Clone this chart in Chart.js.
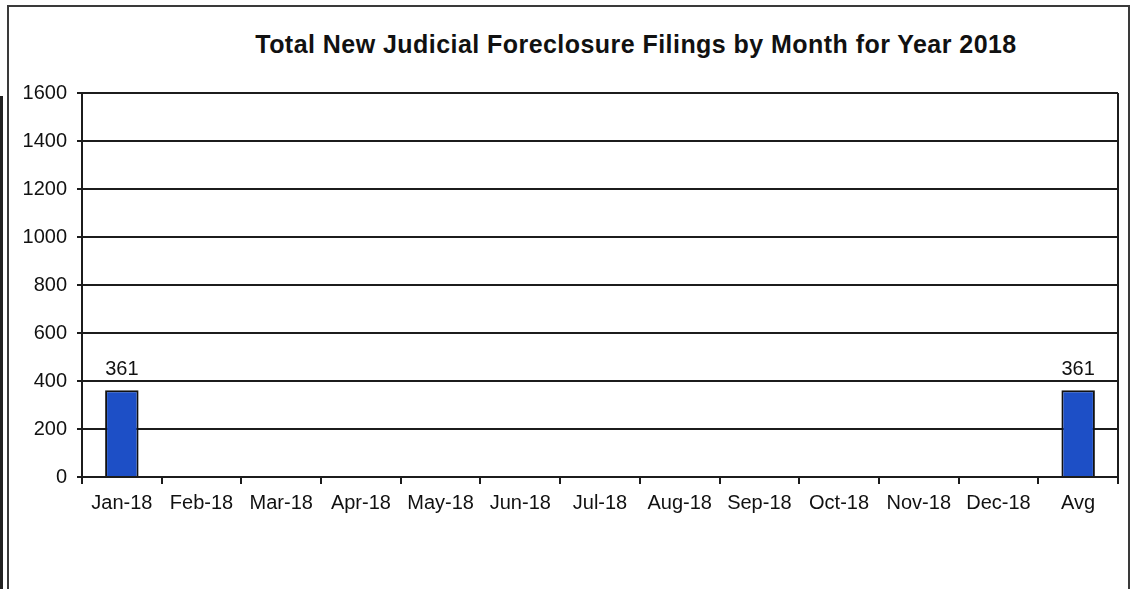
<!DOCTYPE html>
<html>
<head>
<meta charset="utf-8">
<script src="https://cdn.jsdelivr.net/npm/chart.js@4"></script>
<style>
  body { margin: 0; background: #fff; }
  #wrap { position: relative; width: 1137px; height: 589px; overflow: hidden; }
  #frame { position: absolute; left: 7px; top: 5px; width: 1119px; height: 640px; border: 2px solid #3a3a3a; }
  #edge { position: absolute; left: 0; top: 96px; width: 3px; height: 500px; background: #222; }
  #title { position: absolute; left: 0; width: 1272px; top: 30px; text-align: center;
           font: bold 25px "Liberation Sans", Arial, sans-serif; color: #111; letter-spacing: 0.45px; }
  #myChart { position: absolute; left: 0; top: 0; }
</style>
</head>
<body>
<div id="wrap">
  <div id="frame"></div>
  <div id="edge"></div>
  <div id="title">Total New Judicial Foreclosure Filings by Month for Year 2018</div>
  <canvas id="myChart" width="1137" height="589"></canvas>
</div>
<script>
const months = ['Jan-18', 'Feb-18', 'Mar-18', 'Apr-18', 'May-18', 'Jun-18', 'Jul-18', 'Aug-18', 'Sep-18', 'Oct-18', 'Nov-18', 'Dec-18', 'Avg'];
const filings = [361, null, null, null, null, null, null, null, null, null, null, null, 361];
const yTicks = [0, 200, 400, 600, 800, 1000, 1200, 1400, 1600];

const lineColor = '#1c1c1c';

// value labels above the bars + right edge of the plot box
const barLabels = {
  id: 'barLabels',
  afterDatasetsDraw(chart) {
    const ctx = chart.ctx;
    const meta = chart.getDatasetMeta(0);
    ctx.save();
    ctx.font = '20px "Liberation Sans", Arial, sans-serif';
    ctx.fillStyle = '#111';
    ctx.textAlign = 'center';
    ctx.textBaseline = 'bottom';
    meta.data.forEach((bar, i) => {
      if (filings[i] == null) return;
      ctx.fillText(String(filings[i]), bar.x, bar.y - 11);
    });
    const a = chart.chartArea;
    ctx.strokeStyle = lineColor;
    ctx.lineWidth = 2;
    ctx.beginPath();
    ctx.moveTo(a.right, a.top);
    ctx.lineTo(a.right, a.bottom + 1);
    ctx.stroke();
    ctx.restore();
  }
};

const c1 = document.getElementById('myChart');

new Chart(c1, {
  type: 'bar',
  data: {
    labels: months,
    datasets: [{
      data: filings,
      backgroundColor: '#1d4fc6',
      borderColor: '#111',
      borderWidth: 2,
      barPercentage: 0.42,
      categoryPercentage: 1
    }]
  },
  options: {
    responsive: false,
    animation: false,
    layout: {
      padding: { top: 93, right: 19, left: 0, bottom: 0 }
    },
    plugins: {
      legend: { display: false },
      title: { display: false },
      tooltip: { enabled: false }
    },
    scales: {
      x: {
        afterFit(scale) { scale.height = 112; },
        grid: {
          offset: true,
          drawOnChartArea: false,
          drawTicks: true,
          tickLength: 7,
          color: lineColor,
          lineWidth: 2
        },
        border: { color: lineColor, width: 2 },
        ticks: {
          color: '#111',
          padding: 7,
          maxRotation: 0,
          font: { family: '"Liberation Sans", Arial, sans-serif', size: 20 }
        }
      },
      y: {
        min: 0,
        max: 1600,
        afterFit(scale) { scale.width = 82; },
        afterBuildTicks(scale) { scale.ticks = yTicks.map(v => ({ value: v })); },
        grid: {
          color: lineColor,
          lineWidth: 2,
          tickLength: 5
        },
        border: { color: lineColor, width: 2 },
        ticks: {
          color: '#111',
          padding: 10,
          callback: v => String(v),
          font: { family: '"Liberation Sans", Arial, sans-serif', size: 20 }
        }
      }
    }
  },
  plugins: [barLabels]
});
</script>
</body>
</html>
